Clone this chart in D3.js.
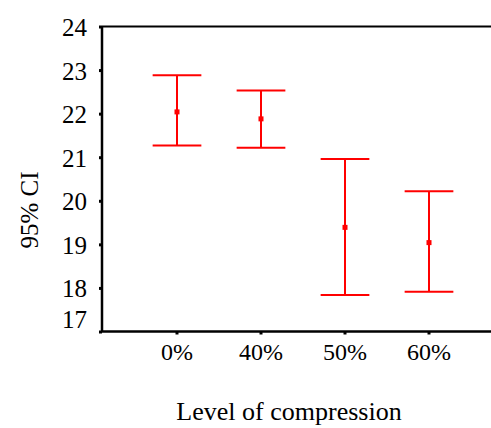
<!DOCTYPE html>
<html>
<head>
<meta charset="utf-8">
<script src="https://cdn.jsdelivr.net/npm/d3@7"></script>
<style>
  body { margin: 0; background: #fff; }
</style>
</head>
<body>
<script>
// values
const levels = ["0%", "40%", "50%", "60%"];
const means = [22.04, 21.88, 19.39, 19.04];
const upper = [22.88, 22.53, 20.96, 20.22];
const lower = [21.27, 21.22, 17.84, 17.91];
const yTicks = [17, 18, 19, 20, 21, 22, 23, 24];

const W = 491, H = 428;
const plotL = 102, plotT = 26.5, plotB = 331.5;
const serif = "'Liberation Serif', 'Times New Roman', serif";

const svg = d3.select("body").append("svg")
  .attr("width", W).attr("height", H)
  .style("font-family", serif);

const x = d3.scaleBand().domain(levels).range([135, 471]);
const y = d3.scaleLinear().domain([17, 24]).range([plotB, plotT]);

const rows = levels.map((l, i) => ({ level: l, mean: means[i], hi: upper[i], lo: lower[i] }));

// frame lines (left, top, bottom)
svg.append("line").attr("x1", plotL).attr("x2", W).attr("y1", plotT).attr("y2", plotT)
  .attr("stroke", "#000").attr("stroke-width", 2);
svg.append("line").attr("x1", plotL).attr("x2", W).attr("y1", plotB).attr("y2", plotB)
  .attr("stroke", "#000").attr("stroke-width", 2.5);
svg.append("line").attr("x1", plotL).attr("x2", plotL).attr("y1", plotT).attr("y2", plotB)
  .attr("stroke", "#000").attr("stroke-width", 2.5);

// y axis
const yAxis = svg.append("g").attr("transform", `translate(${plotL},0)`)
  .call(d3.axisLeft(y).tickValues(yTicks).tickSize(3).tickPadding(12).tickFormat(d3.format("d")))
  .attr("font-family", serif).attr("font-size", 25);
yAxis.select(".domain").remove();
yAxis.selectAll("line").attr("stroke", "#000").attr("stroke-width", 3);
yAxis.selectAll("text").style("font-family", serif).style("font-size", "25px")
  .attr("dy", d => d == 17 ? "-0.15em" : "0.36em");

// x axis
const xAxis = svg.append("g").attr("transform", `translate(0,${plotB})`)
  .call(d3.axisBottom(x).tickSize(3).tickPadding(8))
  .attr("font-family", serif).attr("font-size", 24);
xAxis.select(".domain").remove();
xAxis.selectAll("line").attr("stroke", "#000").attr("stroke-width", 3);
xAxis.selectAll("text").style("font-family", serif).style("font-size", "24px");

// error bars
const cx = d => x(d.level) + x.bandwidth() / 2;
const capW = x.bandwidth() * 0.58;
const bars = svg.append("g").attr("stroke", "#f00").attr("stroke-width", 2).attr("fill", "none");
bars.selectAll(".stem").data(rows).join("line")
  .attr("x1", cx).attr("x2", cx).attr("y1", d => y(d.hi)).attr("y2", d => y(d.lo));
bars.selectAll(".capHi").data(rows).join("line")
  .attr("x1", d => cx(d) - capW / 2).attr("x2", d => cx(d) + capW / 2)
  .attr("y1", d => y(d.hi)).attr("y2", d => y(d.hi));
bars.selectAll(".capLo").data(rows).join("line")
  .attr("x1", d => cx(d) - capW / 2).attr("x2", d => cx(d) + capW / 2)
  .attr("y1", d => y(d.lo)).attr("y2", d => y(d.lo));
svg.append("g").selectAll("rect").data(rows).join("rect")
  .attr("x", d => cx(d) - 2.5).attr("y", d => y(d.mean) - 2.5)
  .attr("width", 5).attr("height", 5).attr("fill", "#f00");

// axis titles
svg.append("text").attr("x", 289).attr("y", 420).attr("text-anchor", "middle")
  .style("font-size", "26px").text("Level of compression");
svg.append("text").attr("transform", "translate(38,210) rotate(-90)")
  .attr("text-anchor", "middle").style("font-size", "25px").text("95% CI");
</script>
</body>
</html>
